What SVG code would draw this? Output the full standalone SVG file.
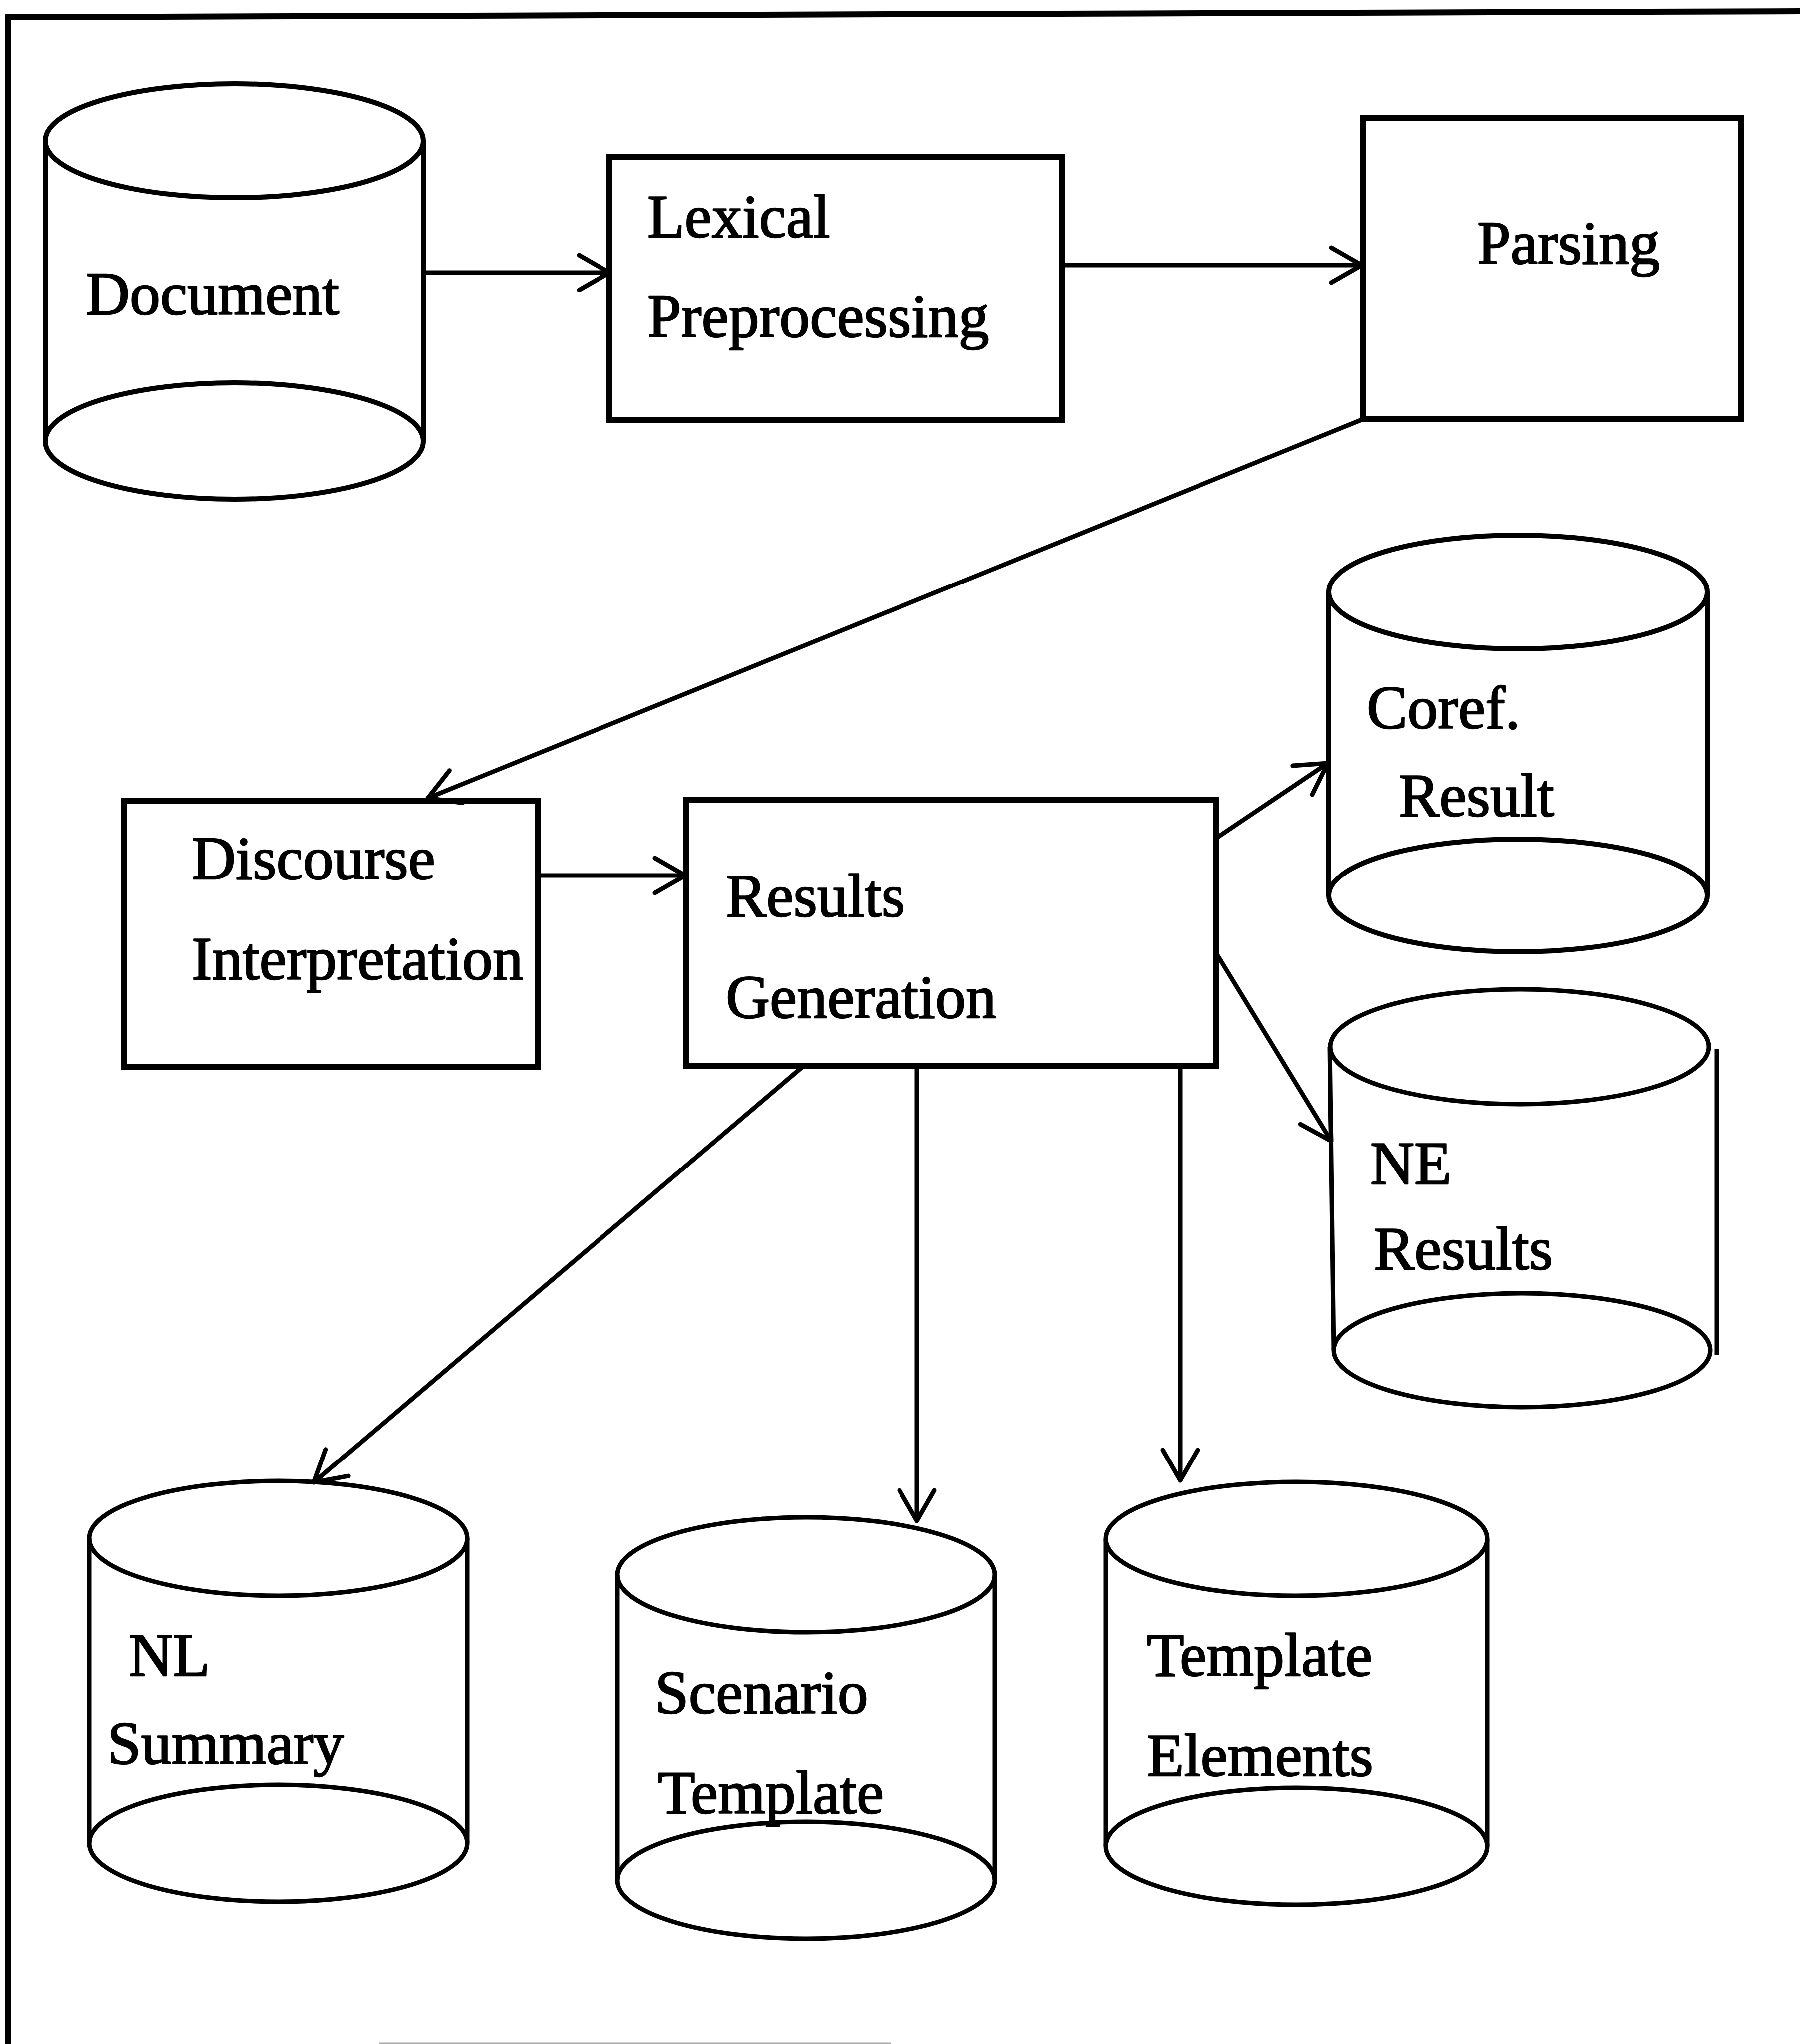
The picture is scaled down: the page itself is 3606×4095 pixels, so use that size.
<svg xmlns="http://www.w3.org/2000/svg" width="3606" height="4095" viewBox="0 0 3606 4095">
  <style>
    .frame { fill: none; stroke: #000; stroke-width: 12; stroke-linecap: square; }
    .box { fill: none; stroke: #000; stroke-width: 12; stroke-linejoin: miter; }
    .cyl { fill: none; stroke: #000; stroke-width: 10; }
    .cyl-thin { fill: none; stroke: #000; stroke-width: 9; }
    .edge { fill: none; stroke: #000; stroke-width: 9; marker-end: url(#head); }
    .label { font-family: "Liberation Serif", "Times New Roman", serif; font-size: 122px; fill: #000; stroke: #000; stroke-width: 2.5; stroke-linejoin: round; }
  </style>
  <defs>
    <marker id="head" markerUnits="userSpaceOnUse" markerWidth="100" markerHeight="100" refX="0" refY="0" viewBox="-80 -50 100 100" orient="auto">
      <path d="M -61,-35 L 0,0 L -61,35" fill="none" stroke="#000" stroke-width="9" stroke-linejoin="round" stroke-linecap="round"/>
    </marker>
  </defs>

  <rect width="3606" height="4095" fill="#fff"/>

  <!-- page frame -->
  <g id="frame">
    <line class="frame" x1="17" y1="35" x2="3606" y2="23"/>
    <line class="frame" x1="17" y1="35" x2="17" y2="4095"/>
    <line x1="759" y1="4093" x2="1784" y2="4093" stroke="#aaa" stroke-width="3"/>
  </g>

  <!-- connectors -->
  <g id="connectors">
    <line class="edge" x1="849" y1="546" x2="1221" y2="546"/>
    <line class="edge" x1="2128" y1="531" x2="2728" y2="531"/>
    <line class="edge" x1="2730" y1="840" x2="857" y2="1599"/>
    <line class="edge" x1="1077" y1="1754" x2="1373" y2="1754"/>
    <line class="edge" x1="2437" y1="1679" x2="2660" y2="1529"/>
    <line class="edge" x1="2437" y1="1910" x2="2667" y2="2286"/>
    <line class="edge" x1="1609" y1="2136" x2="629" y2="2970"/>
    <line class="edge" x1="1837" y1="2136" x2="1837" y2="3047"/>
    <line class="edge" x1="2364" y1="2136" x2="2364" y2="2966"/>
  </g>

  <!-- Document store -->
  <g id="document">
    <path class="cyl" d="M 91,282 L 91,884 A 378.5,116 0 0 0 848,884 L 848,282"/>
    <ellipse class="cyl" cx="469.5" cy="282" rx="378.5" ry="114"/>
    <path class="cyl" d="M 91,884 A 378.5,117 0 0 1 848,884"/>
    <text class="label" x="172" y="630">Document</text>
  </g>

  <!-- Lexical Preprocessing -->
  <g id="lexical">
    <rect class="box" x="1221" y="315" width="907" height="526"/>
    <text class="label" x="1297" y="475">Lexical</text>
    <text class="label" x="1297" y="675">Preprocessing</text>
  </g>

  <!-- Parsing -->
  <g id="parsing">
    <rect class="box" x="2730" y="237" width="758" height="603"/>
    <text class="label" x="2959" y="528">Parsing</text>
  </g>

  <!-- Discourse Interpretation -->
  <g id="discourse">
    <rect class="box" x="248" y="1604" width="829" height="533"/>
    <text class="label" x="384" y="1761">Discourse</text>
    <text class="label" x="384" y="1962">Interpretation</text>
  </g>

  <!-- Results Generation -->
  <g id="results-generation">
    <rect class="box" x="1375" y="1602" width="1062" height="533"/>
    <text class="label" x="1454" y="1836">Results</text>
    <text class="label" x="1454" y="2039">Generation</text>
  </g>

  <!-- Coref. Result store -->
  <g id="coref">
    <path class="cyl" d="M 2662,1186 L 2662,1794 A 379,113 0 0 0 3420,1794 L 3420,1186"/>
    <ellipse class="cyl" cx="3041" cy="1186" rx="379" ry="114"/>
    <path class="cyl" d="M 2662,1794 A 379,113 0 0 1 3420,1794"/>
    <text class="label" x="2738" y="1459">Coref.</text>
    <text class="label" x="2802" y="1635">Result</text>
  </g>

  <!-- NE Results store -->
  <g id="ne-results">
    <ellipse class="cyl-thin" cx="3044" cy="2097" rx="379" ry="115"/>
    <line class="cyl-thin" x1="2664" y1="2097" x2="2672" y2="2705"/>
    <line class="cyl-thin" x1="3439" y1="2101" x2="3439" y2="2715"/>
    <ellipse class="cyl-thin" cx="3049" cy="2705" rx="377" ry="114"/>
    <text class="label" x="2745" y="2372">NE</text>
    <text class="label" x="2752" y="2543">Results</text>
  </g>

  <!-- NL Summary store -->
  <g id="nl-summary">
    <path class="cyl-thin" d="M 179,3082 L 179,3693 A 378.5,117 0 0 0 936,3693 L 936,3082"/>
    <ellipse class="cyl-thin" cx="557.5" cy="3082" rx="378.5" ry="115"/>
    <path class="cyl-thin" d="M 179,3693 A 378.5,117 0 0 1 936,3693"/>
    <text class="label" x="258" y="3357">NL</text>
    <text class="label" x="215" y="3534">Summary</text>
  </g>

  <!-- Scenario Template store -->
  <g id="scenario-template">
    <path class="cyl-thin" d="M 1237,3155 L 1237,3767 A 378,117 0 0 0 1993,3767 L 1993,3155"/>
    <ellipse class="cyl-thin" cx="1615" cy="3155" rx="378" ry="115"/>
    <path class="cyl-thin" d="M 1237,3767 A 378,117 0 0 1 1993,3767"/>
    <text class="label" x="1312" y="3432">Scenario</text>
    <text class="label" x="1318" y="3633">Template</text>
  </g>

  <!-- Template Elements store -->
  <g id="template-elements">
    <path class="cyl-thin" d="M 2215,3083 L 2215,3699 A 382,117 0 0 0 2979,3699 L 2979,3083"/>
    <ellipse class="cyl-thin" cx="2597" cy="3083" rx="382" ry="114"/>
    <path class="cyl-thin" d="M 2215,3699 A 382,117 0 0 1 2979,3699"/>
    <text class="label" x="2297" y="3357">Template</text>
    <text class="label" x="2297" y="3558">Elements</text>
  </g>
</svg>
